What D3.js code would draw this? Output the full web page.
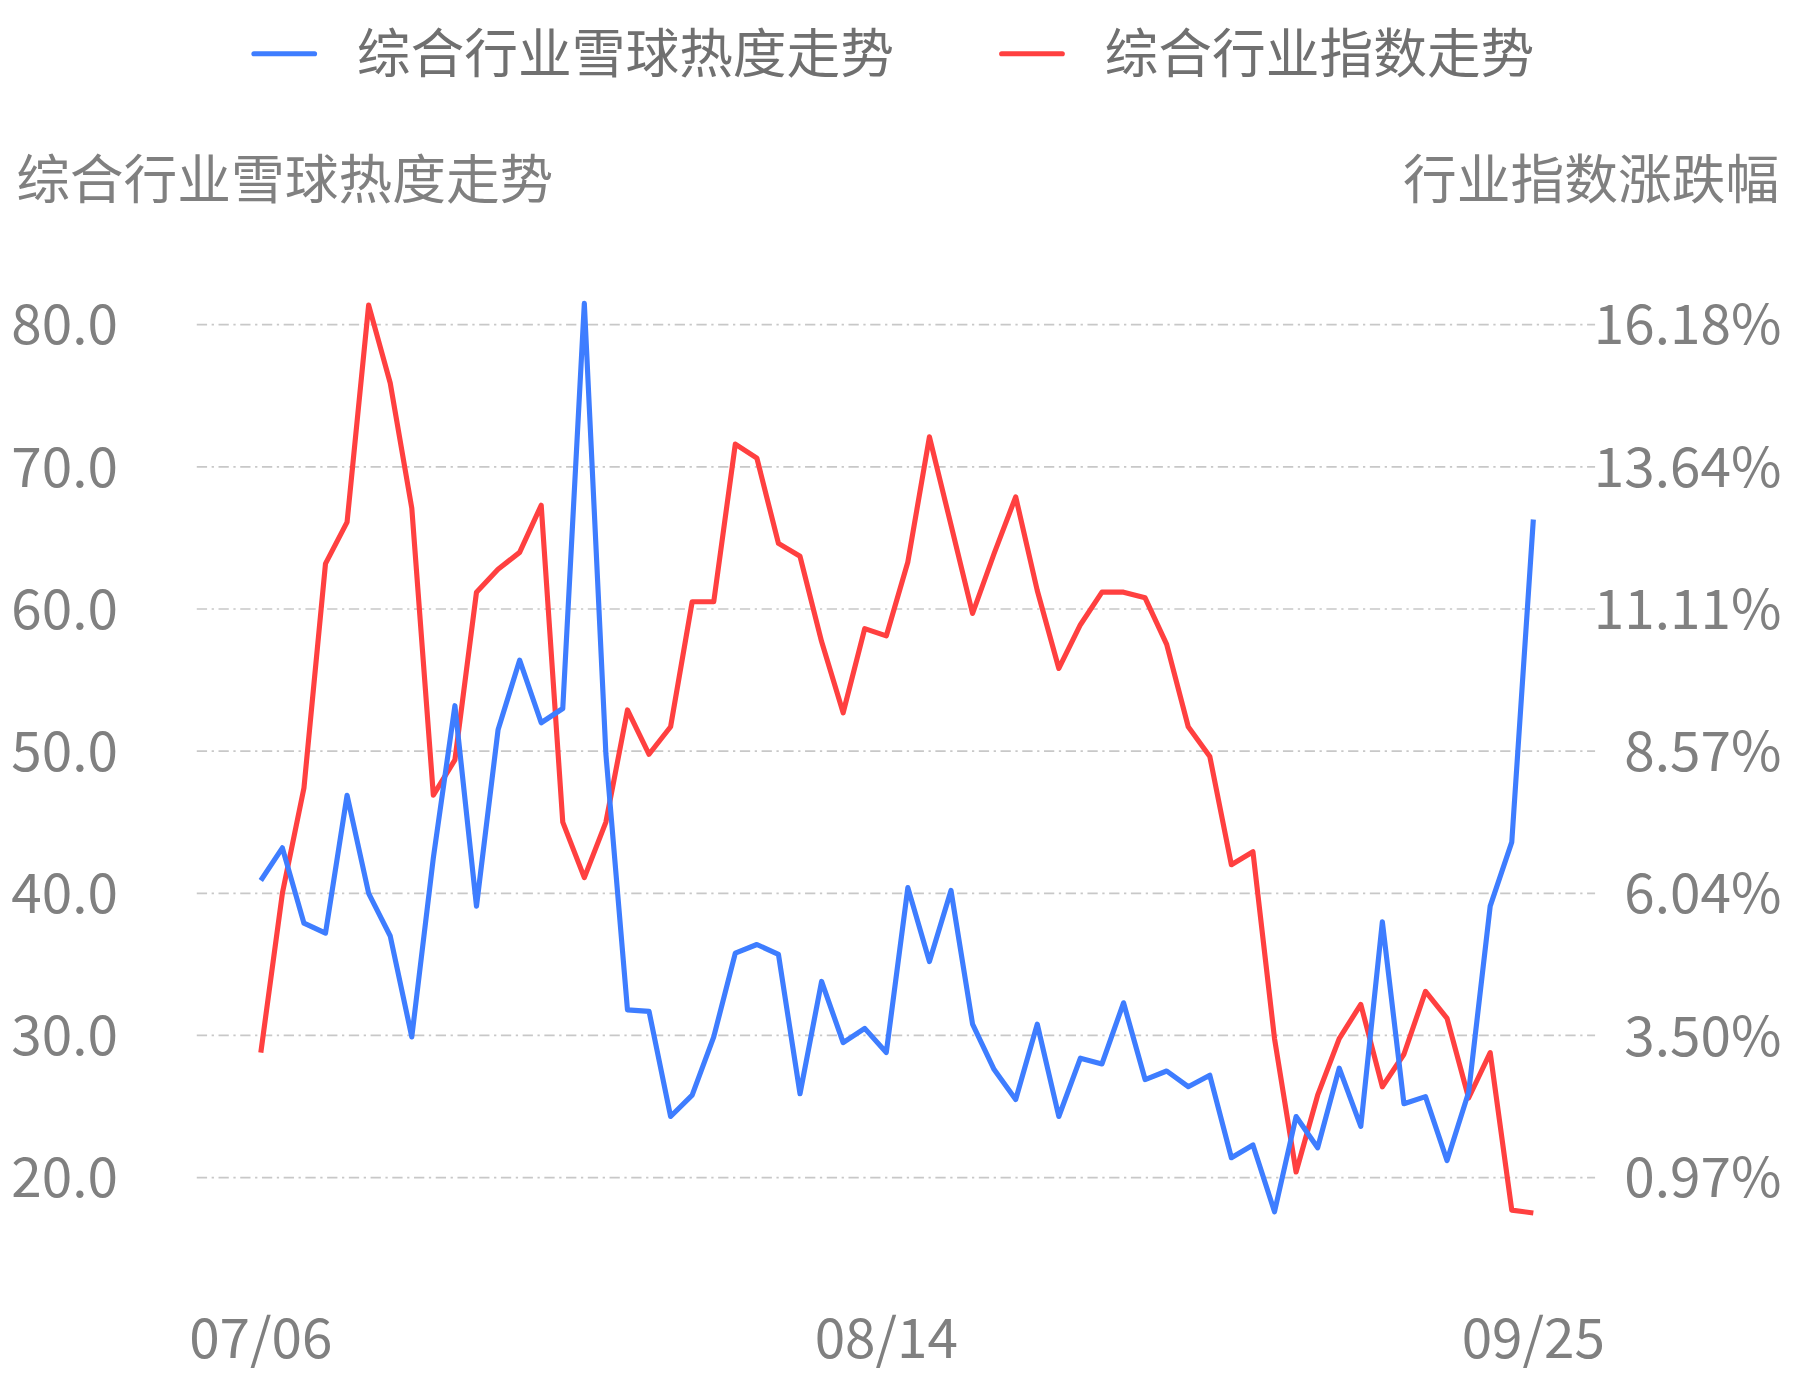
<!DOCTYPE html>
<html><head><meta charset="utf-8">
<script src="https://cdn.jsdelivr.net/npm/d3@7"></script>
<style>body{margin:0;background:#fff}text{font-family:"Noto Sans CJK SC","Noto Sans",sans-serif;fill:#808080}</style>
</head><body><svg id="chart"></svg>
<script>
const dateLabels = ["07/06", "08/14", "09/25"];
const dateLabelIdx = [0, 29, 59];
const heat = [40.9,43.2,37.9,37.2,46.9,40.0,37.0,29.9,42.5,53.2,39.1,51.5,56.4,52.0,53.0,81.5,49.8,31.8,31.7,24.3,
  25.8,29.9,35.8,36.4,35.7,25.9,33.8,29.5,30.5,28.8,40.4,35.2,40.2,30.8,27.6,25.5,30.8,24.3,28.4,28.0,
  32.3,26.9,27.5,26.4,27.2,21.4,22.3,17.6,24.3,22.1,27.7,23.6,38.0,25.2,25.7,21.2,26.0,39.1,43.6,66.3];
const indexPct = [3.20,6.04,7.92,11.92,12.66,16.53,15.14,12.91,7.79,8.42,11.41,11.82,12.12,12.96,7.31,6.32,7.31,9.31,8.52,9.01,
  11.24,11.24,14.05,13.80,12.28,12.05,10.53,9.26,10.76,10.63,11.95,14.18,12.61,11.03,12.10,13.11,11.44,10.05,10.83,11.41,
  11.41,11.31,10.48,9.01,8.48,6.55,6.78,3.45,1.07,2.44,3.45,4.06,2.59,3.17,4.29,3.81,2.39,3.20,0.39,0.34];
const leftTicks = [20, 30, 40, 50, 60, 70, 80];
const rightTicks = [0.97, 3.50, 6.04, 8.57, 11.11, 13.64, 16.18];
const seriesNames = ["综合行业雪球热度走势", "综合行业指数走势"];
const colors = ["#3e7dff", "#ff4040"];

const W = 1568, H = 1207;
const svg = d3.select("#chart").attr("width", 1793).attr("height", 1380)
  .attr("viewBox", `0 0 ${W} ${H}`);

const x = d3.scaleLinear().domain([0, heat.length - 1]).range([228, 1341]);
const yL = d3.scaleLinear().domain([20, 80]).range([1030, 284]);
const yR = d3.scaleLinear().domain([0.97, 16.18]).range([1030, 284]);

// grid
svg.append("g").selectAll("line").data(leftTicks).join("line")
  .attr("x1", 172).attr("x2", 1395)
  .attr("y1", d => yL(d)).attr("y2", d => yL(d))
  .attr("stroke", "#c8c8c8").attr("stroke-width", 1.5)
  .attr("stroke-dasharray", "9,4,2,4");

// left axis
svg.append("g").attr("transform", "translate(103,0)")
  .call(d3.axisLeft(yL).tickValues(leftTicks).tickFormat(d3.format(".1f")).tickSize(0))
  .call(g => g.select(".domain").remove())
  .selectAll("text").style("font-size", "48px").attr("x", 0).attr("dy", "0.35em").style("fill", "#808080");

// right axis
svg.append("g").attr("transform", "translate(1558,0)")
  .call(d3.axisLeft(yR).tickValues(rightTicks).tickFormat(d => d.toFixed(2) + "%").tickSize(0))
  .call(g => g.select(".domain").remove())
  .selectAll("text").style("font-size", "48px").attr("x", 0).attr("dy", "0.35em").style("fill", "#808080");

// x labels
svg.append("g").selectAll("text").data(dateLabelIdx).join("text")
  .attr("x", d => x(d)).attr("y", 1188).attr("text-anchor", "middle")
  .style("font-size", "48px").text((d, i) => dateLabels[i]);

// axis titles
svg.append("text").attr("x", 14).attr("y", 174).style("font-size", "47px").text(seriesNames[0]);
svg.append("text").attr("x", 1556).attr("y", 174).attr("text-anchor", "end").style("font-size", "47px").text("行业指数涨跌幅");

// lines
const lineL = d3.line().x((d, i) => x(i)).y(d => yL(d));
const lineR = d3.line().x((d, i) => x(i)).y(d => yR(d));
svg.append("path").datum(indexPct).attr("d", lineR).attr("fill", "none")
  .attr("stroke", colors[1]).attr("stroke-width", 4.5).attr("stroke-linejoin", "round");
svg.append("path").datum(heat).attr("d", lineL).attr("fill", "none")
  .attr("stroke", colors[0]).attr("stroke-width", 4.5).attr("stroke-linejoin", "round");

// legend
const leg = svg.append("g").selectAll("g").data(seriesNames).join("g")
  .attr("transform", (d, i) => `translate(${i ? 876 : 222},47)`);
leg.append("line").attr("x1", 0).attr("x2", 53)
  .attr("stroke", (d, i) => colors[i]).attr("stroke-width", 4.5).attr("stroke-linecap", "round");
leg.append("text").attr("x", 90).attr("dy", "0.35em").style("font-size", "47px").style("fill", "#707070").text(d => d);
</script></body></html>
